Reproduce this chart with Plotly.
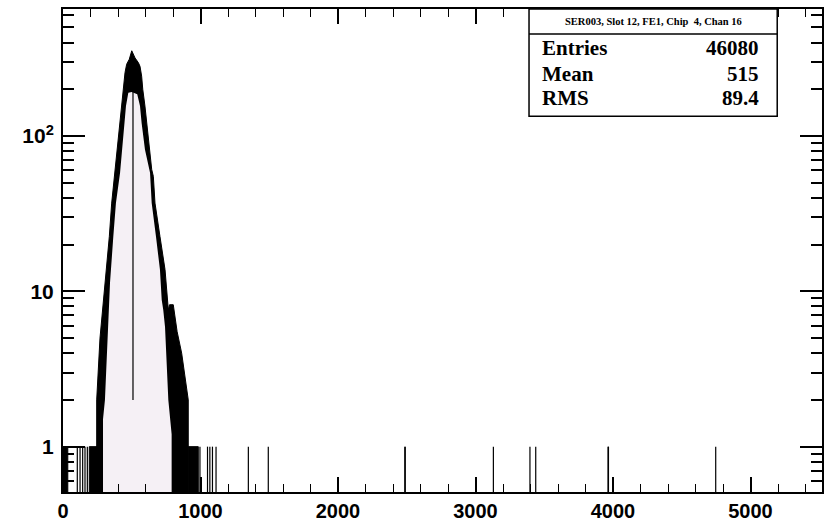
import plotly.graph_objects as go

# ---------------- data ----------------
# upper envelope of the fluctuating peak (black band outer edge)
upper_x = [245, 245, 269, 289, 305, 337, 354, 378, 402, 439, 451, 463, 482, 500,
           524, 548, 560, 572, 580, 596, 620, 645, 657, 669, 705, 742, 766, 775,
           802, 830, 863, 890, 911, 911]
upper_y = [0.1, 2.0, 5.0, 7.6, 11.4, 22.6, 37, 61, 95, 200, 256, 290, 312, 354,
           318, 297, 281, 243, 200, 156, 95, 61, 55, 37, 22.6, 13.8, 7.6, 8.2,
           8.2, 5.5, 4.0, 2.8, 2.0, 0.1]
# lower envelope (edge of the light fill inside the black band)
lower_x = [291, 291, 305, 329, 337, 342, 366, 385, 415, 439, 458, 475, 500,
           540, 560, 572, 596, 633, 645, 676, 705, 718, 729, 742, 766, 790, 790]
lower_y = [0.1, 1.5, 2.0, 5.9, 8.8, 11.4, 22.6, 37, 58, 95, 156, 190, 192,
           186, 156, 121, 82, 58, 37, 22.6, 13.8, 8.8, 7.6, 5.9, 2.0, 1.2, 0.1]
# stretches where every bin holds one entry
ones_from = [0, 191, 911]
ones_to = [35, 250, 984]
# isolated single-entry bins
single_x = [104, 124, 143, 160, 177, 996, 1051, 1068, 1087, 1113, 1348, 1493,
            2486, 2489, 3130, 3396, 3438, 3964, 3967, 4747]
# bins inside the peak that dip well below their neighbours
dip_x = [509]
dip_y = [2.0]
dip_top = [300]

x_ticks = [0, 1000, 2000, 3000, 4000, 5000]
y_ticks = [1, 10, 100]
y_tick_text = ["1", "10", "10<sup>2</sup>"]
y_minor = [0.6, 0.7, 0.8, 0.9, 2, 3, 4, 5, 6, 7, 8, 9,
           20, 30, 40, 50, 60, 70, 80, 90, 200, 300, 400, 500, 600]

stats_title = "SER003, Slot 12, FE1, Chip  4, Chan 16"
stats_names = ["Entries", "Mean", "RMS"]
stats_values = ["46080", "515", "89.4"]

BASE = 0.1
PINK = "#f5f0f5"

fig = go.Figure()

# black band (outer envelope)
fig.add_trace(go.Scatter(x=upper_x, y=upper_y, mode="lines", fill="toself",
                         fillcolor="black", line=dict(color="black", width=1),
                         hoverinfo="skip", showlegend=False))
# light fill (inner envelope)
fig.add_trace(go.Scatter(x=lower_x, y=lower_y, mode="lines", fill="toself",
                         fillcolor=PINK, line=dict(color=PINK, width=0),
                         hoverinfo="skip", showlegend=False))

# solid single-entry stretches
for a, b in zip(ones_from, ones_to):
    fig.add_trace(go.Scatter(x=[a, a, b, b], y=[BASE, 1, 1, BASE], mode="lines",
                             fill="toself", fillcolor="black",
                             line=dict(color="black", width=1),
                             hoverinfo="skip", showlegend=False))

# isolated bins
sx, sy = [], []
for v in single_x:
    sx += [v, v, None]
    sy += [BASE, 1, None]
fig.add_trace(go.Scatter(x=sx, y=sy, mode="lines", line=dict(color="black", width=1.2),
                         hoverinfo="skip", showlegend=False))

# dips inside the peak
dx, dy = [], []
for v, lo, hi in zip(dip_x, dip_y, dip_top):
    dx += [v, v, None]
    dy += [lo, hi, None]
fig.add_trace(go.Scatter(x=dx, y=dy, mode="lines", line=dict(color="black", width=1.2),
                         hoverinfo="skip", showlegend=False))

axis_font = dict(family="Liberation Sans, Arial, sans-serif", size=20,
                 color="black", weight="bold")
yaxis_font = dict(family="Liberation Sans, Arial, sans-serif", size=21,
                  color="black", weight="bold")

fig.update_xaxes(range=[0, 5520], tickvals=x_ticks, ticks="inside", ticklen=15,
                 tickwidth=1.5, tickcolor="black", showline=True, linewidth=2,
                 linecolor="black", mirror="ticks", showgrid=False, zeroline=False,
                 tickfont=axis_font, automargin=False, ticklabelstandoff=0,
                 minor=dict(dtick=200, tick0=0, ticks="inside", ticklen=8,
                            tickwidth=1.2, tickcolor="black", showgrid=False))
fig.update_yaxes(type="log", range=[-0.292, 2.818], tickvals=y_ticks,
                 ticktext=y_tick_text, ticks="inside", ticklen=22, tickwidth=2,
                 tickcolor="black", showline=True, linewidth=2, linecolor="black",
                 mirror="ticks", showgrid=False, zeroline=False, tickfont=yaxis_font,
                 ticklabelstandoff=3, automargin=False,
                 minor=dict(tickvals=y_minor, ticks="inside", ticklen=11,
                            tickwidth=1.5, tickcolor="black", showgrid=False))

# stats box
bx0, bx1, by0, by1, bdiv = 0.614, 0.941, 0.778, 1.0, 0.948
fig.add_shape(type="rect", xref="paper", yref="paper", x0=bx0, x1=bx1, y0=by0, y1=by1,
              line=dict(color="black", width=1.5), fillcolor="white", layer="above")
fig.add_shape(type="line", xref="paper", yref="paper", x0=bx0, x1=bx1, y0=bdiv, y1=bdiv,
              line=dict(color="black", width=1.5), layer="above")
serif = "Liberation Serif, Times New Roman, serif"
fig.add_annotation(xref="paper", yref="paper", x=(bx0 + bx1) / 2, y=0.974,
                   text=stats_title, showarrow=False, xanchor="center", yanchor="middle",
                   font=dict(family=serif, size=10.5, color="black", weight="bold"))
rows_y = [0.919, 0.865, 0.815]
for name, val, yy in zip(stats_names, stats_values, rows_y):
    fig.add_annotation(xref="paper", yref="paper", x=0.629, y=yy, text=name,
                       showarrow=False, xanchor="left", yanchor="middle",
                       font=dict(family=serif, size=21, color="black", weight="bold"))
    fig.add_annotation(xref="paper", yref="paper", x=0.92, y=yy, text=val,
                       showarrow=False, xanchor="right", yanchor="middle",
                       font=dict(family=serif, size=21, color="black", weight="bold"))

fig.update_layout(width=828, height=521, margin=dict(l=63, r=6, t=9, b=29),
                  paper_bgcolor="white", plot_bgcolor="white", showlegend=False)

fig.write_html("out.html", config={"displayModeBar": False},
               post_script="document.body.style.margin='0px';"
                           "document.body.style.overflow='hidden';")
